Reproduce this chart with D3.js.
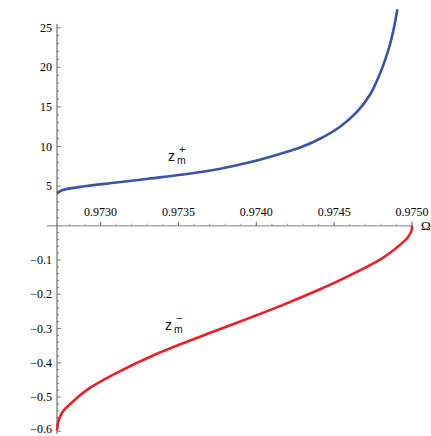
<!DOCTYPE html>
<html><head><meta charset="utf-8">
<script src="https://cdn.jsdelivr.net/npm/d3@7"></script>
<style>body{margin:0;background:#fff}</style>
</head><body>
<svg id="c" width="431" height="436"></svg>
<script>
// data
const omegaPlus = [0.97272,0.97274,0.972758,0.972886,0.973101,0.973315,0.973529,0.973744,0.973958,0.974172,0.974281,0.974409,0.974538,0.974645,0.974730,0.974794,0.974827,0.974859,0.974886,0.974906];
const zPlus     = [4.11,4.35,4.52,4.95,5.45,5.95,6.46,7.10,8.00,9.18,9.87,10.98,12.50,14.33,16.54,19.19,20.90,22.92,25.20,27.32];
const omegaMinus = [0.97272,0.972732,0.972758,0.972822,0.972929,0.973101,0.973315,0.973529,0.973744,0.973958,0.974172,0.974387,0.974601,0.974815,0.974923,0.974976,0.974998];
const zMinus     = [-0.597,-0.566,-0.542,-0.513,-0.474,-0.430,-0.383,-0.343,-0.306,-0.269,-0.231,-0.190,-0.145,-0.093,-0.056,-0.032,-0.0125];
const xTicks = [0.9730,0.9735,0.9740,0.9745,0.9750];
const yTicksPlus = [5,10,15,20,25];
const yTicksMinus = [-0.1,-0.2,-0.3,-0.4,-0.5,-0.6];

const SERIF = "'Liberation Serif', 'Times New Roman', Times, serif";
const svg = d3.select("#c");
const x = d3.scaleLinear().domain([0.97272,0.9750]).range([57,412]);
const yP = d3.scaleLinear().domain([0,25]).range([225.7,27.7]);
const yM = d3.scaleLinear().domain([0,-0.6]).range([225.7,431.3]);
const x0 = x(0.97272), y0 = 225.7;

// axes lines
svg.append("line").attr("x1",x0-10).attr("x2",x(0.9750)).attr("y1",y0).attr("y2",y0)
  .attr("stroke","#aaa").attr("stroke-width",1.5);
svg.append("line").attr("x1",x0).attr("x2",x0).attr("y1",24).attr("y2",434)
  .attr("stroke","#555").attr("stroke-width",1);

// x ticks
const xMinor = d3.range(0.9728,0.97505,0.0001);
svg.selectAll(".xm").data(xMinor).enter().append("line")
  .attr("x1",d=>x(d)).attr("x2",d=>x(d)).attr("y1",y0).attr("y2",y0-2)
  .attr("stroke","#777").attr("stroke-width",0.7);
svg.selectAll(".xM").data(xTicks).enter().append("line")
  .attr("x1",d=>x(d)).attr("x2",d=>x(d)).attr("y1",y0).attr("y2",y0-4)
  .attr("stroke","#555").attr("stroke-width",0.8);
svg.selectAll(".xl").data(xTicks).enter().append("text")
  .style("font-family",SERIF).style("font-size","12px")
  .attr("x",d=>x(d)).attr("y",y0-10).attr("text-anchor","middle")
  .text(d=>d.toFixed(4));
svg.append("text").style("font-family",SERIF).style("font-size","13px")
  .attr("x",421).attr("y",y0+4.5).text("Ω");

// y ticks upper
svg.selectAll(".ypm").data(d3.range(1,26)).enter().append("line")
  .attr("x1",x0).attr("x2",d=>x0+(d%5===0?4:2)).attr("y1",d=>yP(d)).attr("y2",d=>yP(d))
  .attr("stroke","#555").attr("stroke-width",0.7);
svg.selectAll(".ypl").data(yTicksPlus).enter().append("text")
  .style("font-family",SERIF).style("font-size","12px")
  .attr("x",x0-5).attr("y",d=>yP(d)+4).attr("text-anchor","end").text(d=>d);
// y ticks lower
svg.selectAll(".ymm").data(d3.range(1,31)).enter().append("line")
  .attr("x1",x0).attr("x2",d=>x0+(d%5===0?4:2)).attr("y1",d=>yM(-d*0.02)).attr("y2",d=>yM(-d*0.02))
  .attr("stroke","#555").attr("stroke-width",0.7);
svg.selectAll(".yml").data(yTicksMinus).enter().append("text")
  .style("font-family",SERIF).style("font-size","12px")
  .attr("x",x0-5).attr("y",d=>Math.min(yM(d)+4,433)).attr("text-anchor","end")
  .text(d=>"\u2212"+Math.abs(d).toFixed(1));

// curves
const plus = omegaPlus.map((o,i)=>[o,zPlus[i]]);
const minus = omegaMinus.map((o,i)=>[o,zMinus[i]]).concat([[0.9750,0]]);
svg.append("path").datum(plus)
  .attr("d",d3.line().x(d=>x(d[0])).y(d=>yP(d[1])).curve(d3.curveCatmullRom.alpha(0.5)))
  .attr("fill","none").attr("stroke","#3a53a8").attr("stroke-width",2.6);
svg.append("path").datum(minus)
  .attr("d",d3.line().x(d=>x(d[0])).y(d=>yM(d[1])).curve(d3.curveCatmullRom.alpha(0.5)))
  .attr("fill","none").attr("stroke","#ea2027").attr("stroke-width",2.6);

// curve labels
function zlab(cx,cy,sign){
  const g = svg.append("g").style("font-family","'Liberation Sans', Arial, sans-serif").attr("fill","#111");
  g.append("text").attr("x",cx).attr("y",cy).style("font-size","14px").text("z");
  g.append("text").attr("x",cx+9).attr("y",cy+3).style("font-size","10.5px").text("m");
  g.append("text").attr("x",cx+11).attr("y",cy-8).style("font-size","11px").text(sign);
}
zlab(168,161,"+");
zlab(165,330,"\u2212");
</script>
</body></html>
